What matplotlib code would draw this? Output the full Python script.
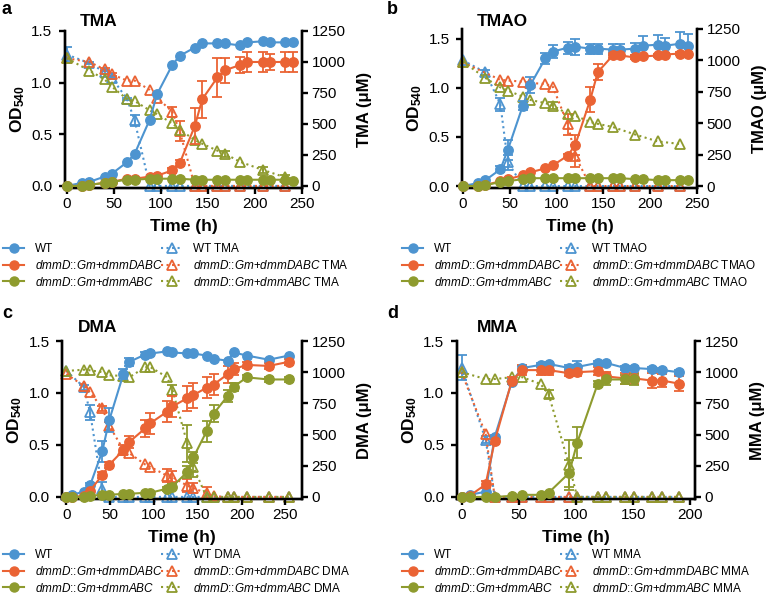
import matplotlib
matplotlib.use("Agg")
import matplotlib.pyplot as plt
from matplotlib.lines import Line2D

plt.rcParams['font.family'] = ['Liberation Sans', 'DejaVu Sans']
plt.rcParams['mathtext.fontset'] = 'custom'
plt.rcParams['mathtext.rm'] = 'Liberation Sans'
plt.rcParams['mathtext.it'] = 'Liberation Sans:italic'
plt.rcParams['mathtext.bf'] = 'Liberation Sans:bold'

BLUE = '#4D94D0'
RED = '#EA6334'
OLIVE = '#8E9B2E'

# ---------------- panel a : TMA ----------------
t_a = [0, 16, 24, 40, 48, 64, 72, 88, 96, 112, 120, 136, 144, 160, 168, 184, 192, 208, 216, 232, 240]
wt_od_a = [0.0, 0.03, 0.04, 0.09, 0.12, 0.23, 0.31, 0.64, 0.89, 1.17, 1.26, 1.34, 1.38, 1.38, 1.38, 1.36, 1.39, 1.40, 1.39, 1.39, 1.39]
wt_od_err_a = [0] * 21
dabc_od_a = [0.0, 0.0, 0.01, 0.03, 0.04, 0.07, 0.07, 0.09, 0.10, 0.15, 0.22, 0.58, 0.84, 1.05, 1.12, 1.17, 1.20, 1.20, 1.20, 1.20, 1.20]
dabc_od_err_a = [0, 0, 0, 0, 0, 0, 0, 0, 0, 0.02, 0.03, 0.17, 0.18, 0.19, 0.12, 0.08, 0.10, 0.10, 0.08, 0.10, 0.10]
abc_od_a = [0.0, 0.0, 0.01, 0.03, 0.04, 0.06, 0.06, 0.07, 0.07, 0.07, 0.07, 0.06, 0.06, 0.06, 0.06, 0.06, 0.06, 0.06, 0.06, 0.06, 0.05]
abc_od_err_a = [0] * 21

tt_a = [0, 24, 40, 48, 64, 72, 88, 96, 112, 120, 136, 144, 160, 168, 184, 192, 208, 216, 232, 240]
wt_sub_a = [1060, 990, 920, 870, 700, 530, 0, 0, 0, 0, 0, 0, 0, 0, 0, None, 0, None, 0, None]
wt_sub_err_a = [60, 10, 15, 10, 10, 45, 0, 0, 0, 0, 0, 0, 0, 0, 0, 0, 0, 0, 0, 0]
dabc_sub_a = [1030, 1000, 940, 900, 850, 850, 775, 710, 600, 440, 0, 0, 0, 0, 0, None, 0, None, 0, None]
dabc_sub_err_a = [0, 0, 10, 10, 0, 0, 0, 0, 40, 80, 0, 0, 0, 0, 0, 0, 0, 0, 0, 0]
abc_sub_a = [1030, 930, 860, 800, 700, 685, 610, 580, 505, 455, 370, 340, 285, 260, 195, None, 130, None, 70, None]
abc_sub_err_a = [0, 0, 0, 0, 0, 0, 0, 0, 0, 0, 0, 0, 0, 25, 0, 0, 25, 0, 20, 0]

# ---------------- panel b : TMAO ----------------
t_b = [0, 16, 24, 40, 48, 64, 72, 88, 96, 112, 120, 136, 144, 160, 168, 184, 192, 208, 216, 232, 240]
wt_od_b = [0.0, 0.03, 0.06, 0.17, 0.37, 0.82, 1.03, 1.30, 1.37, 1.41, 1.42, 1.40, 1.40, 1.39, 1.39, 1.40, 1.43, 1.44, 1.43, 1.45, 1.43]
wt_od_err_b = [0, 0, 0, 0.03, 0.10, 0.05, 0.08, 0.06, 0.07, 0.06, 0.08, 0.05, 0.05, 0.06, 0.06, 0.06, 0.10, 0.10, 0.08, 0.12, 0.12]
dabc_od_b = [0.0, 0.0, 0.01, 0.05, 0.07, 0.11, 0.14, 0.18, 0.21, 0.31, 0.42, 0.88, 1.16, 1.33, 1.33, 1.31, 1.32, 1.33, 1.34, 1.35, 1.35]
dabc_od_err_b = [0, 0, 0, 0, 0, 0, 0, 0, 0, 0.02, 0.10, 0.13, 0.08, 0.03, 0.02, 0.02, 0.02, 0.02, 0.02, 0.02, 0.02]
abc_od_b = [0.0, 0.0, 0.01, 0.04, 0.05, 0.07, 0.08, 0.08, 0.08, 0.08, 0.08, 0.08, 0.08, 0.08, 0.08, 0.07, 0.07, 0.06, 0.06, 0.06, 0.06]
abc_od_err_b = [0] * 21

tt_b = [0, 24, 40, 48, 64, 72, 88, 96, 112, 120, 136, 144, 160, 168, 184, 192, 208, 216, 232, 240]
wt_sub_b = [1000, 905, 650, 190, 0, 0, 0, 0, 0, 0, 0, 0, 0, 0, 0, None, 0, None, 0, None]
wt_sub_err_b = [0, 20, 50, 60, 0, 0, 0, 0, 0, 0, 0, 0, 0, 0, 0, 0, 0, 0, 0, 0]
dabc_sub_b = [985, None, 845, 840, 831, 820, 813, 791, 490, 240, 0, 0, 0, 0, 0, None, 0, None, 0, None]
dabc_sub_err_b = [0, 0, 0, 0, 0, 0, 0, 0, 80, 90, 0, 0, 0, 0, 0, 0, 0, 0, 0, 0]
abc_sub_b = [990, 860, 785, 760, 711, 685, 660, 640, 575, 560, 510, 495, 470, None, 410, None, 355, None, 335, None]
abc_sub_err_b = [0, 0, 0, 0, 0, 0, 0, 25, 0, 0, 0, 0, 0, 0, 0, 0, 0, 0, 0, 0]

# ---------------- panel c : DMA ----------------
t_c = [0, 6, 20, 27, 41, 49, 65, 72, 90, 96, 115, 121, 138, 145, 160, 168, 184, 191, 206, 231, 254]
wt_od_c = [0.0, 0.02, 0.05, 0.11, 0.44, 0.74, 1.18, 1.30, 1.37, 1.38, 1.40, 1.39, 1.38, 1.38, 1.36, 1.33, 1.31, 1.39, 1.36, 1.32, 1.36]
wt_od_err_c = [0, 0, 0, 0.02, 0.10, 0.12, 0.05, 0.04, 0.02, 0.02, 0, 0, 0, 0, 0, 0, 0, 0, 0, 0, 0]
dabc_od_c = [0.0, 0.0, 0.01, 0.06, 0.21, 0.31, 0.45, 0.53, 0.66, 0.71, 0.82, 0.87, 0.95, 0.98, 1.05, 1.08, 1.18, 1.23, 1.27, 1.26, 1.30]
dabc_od_err_c = [0, 0, 0, 0.01, 0.03, 0.03, 0.05, 0.06, 0.08, 0.10, 0.10, 0.10, 0.12, 0.12, 0.10, 0.10, 0.08, 0.06, 0.03, 0.03, 0.03]
abc_od_c = [0.0, 0.0, 0.0, 0.01, 0.02, 0.02, 0.03, 0.03, 0.04, 0.04, 0.08, 0.10, 0.24, 0.38, 0.63, 0.80, 0.97, 1.06, 1.15, 1.13, 1.13]
abc_od_err_c = [0, 0, 0, 0, 0, 0, 0, 0, 0, 0, 0.02, 0.02, 0.06, 0.05, 0.10, 0.08, 0.06, 0.04, 0.02, 0.02, 0.02]

tt_c = [0, 6, 20, 27, 41, 49, 65, 72, 90, 96, 115, 121, 138, 145, 160, 168, 184, 191, 206, 231, 254]
wt_sub_c = [1010, None, 880, 680, 60, 0, 0, 0, 0, 0, 0, 0, 0, 0, 0, 0, 0, 0, 0, 0, 0]
wt_sub_err_c = [0, 0, 20, 60, 60, 0, 0, 0, 0, 0, 0, 0, 0, 0, 0, 0, 0, 0, 0, 0, 0]
dabc_sub_c = [985, None, 890, 840, 710, 570, 380, 350, 260, 240, 170, 160, 90, 70, 30, 5, 0, 0, 0, 0, 0]
dabc_sub_err_c = [0, 0, 0, 0, 20, 30, 0, 0, 0, 0, 50, 50, 50, 40, 50, 0, 0, 0, 0, 0, 0]
abc_sub_c = [1010, None, 1020, 1015, 1000, 975, 970, 960, 1040, 1040, 960, 860, 430, 240, 0, 0, 0, 0, 0, 0, 0]
abc_sub_err_c = [0, 0, 0, 0, 0, 0, 0, 0, 0, 0, 0, 40, 150, 80, 0, 0, 0, 0, 0, 0, 0]

# ---------------- panel d : MMA ----------------
t_d = [0, 7, 21, 29, 44, 53, 69, 76, 94, 101, 119, 126, 143, 151, 166, 175, 190]
wt_od_d = [0.0, 0.02, 0.05, 0.58, 1.11, 1.24, 1.27, 1.28, 1.24, 1.25, 1.29, 1.29, 1.24, 1.24, 1.23, 1.22, 1.20]
wt_od_err_d = [0, 0, 0, 0.02, 0.02, 0.02, 0.02, 0.02, 0.03, 0.06, 0.02, 0.02, 0.02, 0.02, 0.02, 0.02, 0.02]
dabc_od_d = [0.0, 0.01, 0.12, 0.54, 1.12, 1.22, 1.22, 1.22, 1.19, 1.20, 1.21, 1.16, 1.14, 1.14, 1.12, 1.12, 1.09]
dabc_od_err_d = [0, 0, 0.03, 0.03, 0.03, 0.05, 0.05, 0.05, 0.03, 0.04, 0.04, 0.04, 0.05, 0.05, 0.07, 0.06, 0.07]
abc_od_d = [0.0, 0.0, 0.0, 0.0, 0.01, 0.02, 0.02, 0.04, 0.23, 0.52, 1.09, 1.13, 1.13, 1.13, None, None, None]
abc_od_err_d = [0, 0, 0, 0, 0, 0, 0, 0, 0.13, 0.15, 0.03, 0.05, 0.04, 0.05, 0, 0, 0]

tt_d = [0, 7, 21, 29, 44, 53, 69, 76, 94, 101, 119, 126, 143, 151, 166, 175, 190]
wt_sub_d = [1035, None, 460, 0, 0, 0, 0, 0, 0, 0, 0, 0, 0, 0, 0, 0, 0]
wt_sub_err_d = [100, 0, 30, 0, 0, 0, 0, 0, 0, 0, 0, 0, 0, 0, 0, 0, 0]
dabc_sub_d = [1000, None, 505, 0, 0, 0, 0, 0, 0, 0, 0, 0, 0, 0, 0, 0, 0]
dabc_sub_err_d = [0] * 17
abc_sub_d = [1000, None, 945, 945, 960, 960, 905, 825, 255, 0, 0, 0, 0, 0, 0, 0, 0]
abc_sub_err_d = [0, 0, 0, 0, 0, 0, 0, 30, 200, 0, 0, 0, 0, 0, 0, 0, 0]

W, H = 771, 601


def draw(ax, t, y, err, color, marker, ls):
    x = [a for a, b in zip(t, y) if b is not None]
    v = [b for b in y if b is not None]
    e = [c for b, c in zip(y, err) if b is not None]
    xe = [a for a, c in zip(x, e) if c > 0]
    ve = [b for b, c in zip(v, e) if c > 0]
    ee = [c for c in e if c > 0]
    if xe:
        ax.errorbar(xe, ve, yerr=ee, fmt='none', ecolor=color, elinewidth=1.3,
                    capsize=3.5, capthick=1.3, zorder=2)
    if marker == 'o':
        ax.plot(x, v, color=color, ls=ls, lw=1.5, marker='o', ms=6.8,
                mec=color, mfc=color, clip_on=False, zorder=3)
    else:
        ax.plot(x, v, color=color, ls=ls, lw=1.5, marker='^', ms=7.5,
                mec=color, mfc='none', mew=1.3, clip_on=False, zorder=3)


def panel(rect, letter, sub, t, od, tt, subs, xlim, xticks, ytop, letter_xy, title_xy,
          leg_x, leg_y):
    l, r, top, bot = rect
    ax = fig.add_axes([l / W, 1 - bot / H, (r - l) / W, (bot - top) / H])
    axr = ax.twinx()
    ax.set_zorder(axr.get_zorder() + 1)
    ax.patch.set_visible(False)

    cols = [BLUE, RED, OLIVE]
    for (vals, errs), c in zip(subs, cols):
        draw(axr, tt, vals, errs, c, '^', ':')
    for (vals, errs), c in zip(od, cols):
        draw(ax, t, vals, errs, c, 'o', '-')

    ax.set_xlim(*xlim)
    ax.set_ylim(-0.02, ytop)
    axr.set_ylim(-0.02 / 1.5 * 1250 * (1.5 / ytop) if ytop != 1.5 else -16.7, 1250)
    ax.set_xticks(xticks)
    ax.set_yticks([0, 0.5, 1.0, 1.5])
    ax.set_yticklabels(['0.0', '0.5', '1.0', '1.5'])
    axr.set_yticks([0, 250, 500, 750, 1000, 1250])
    for a in (ax, axr):
        a.spines['top'].set_visible(False)
        for s in a.spines.values():
            s.set_linewidth(1.7)
        a.tick_params(width=1.7, length=4, labelsize=11)
    ax.tick_params(axis='y', pad=5)
    ax.tick_params(axis='x', pad=2.5)
    axr.tick_params(axis='y', pad=3)
    ax.set_xlabel('Time (h)', fontsize=12.5, fontweight='bold', labelpad=6)
    ax.set_ylabel(r'OD$_{\mathbf{540}}$', fontsize=12.5, fontweight='bold', labelpad=3)
    axr.set_ylabel(sub + ' (μM)', fontsize=12, fontweight='bold', labelpad=8)

    fig.text(letter_xy[0] / W, 1 - letter_xy[1] / H, letter, fontsize=13,
             fontweight='bold', va='center', ha='left')
    fig.text(title_xy[0] / W, 1 - title_xy[1] / H, sub, fontsize=12.5,
             fontweight='bold', va='center', ha='left')

    gene1 = r'$\mathit{dmmD}$::$\mathit{Gm}$+$\mathit{dmmDABC}$'
    gene2 = r'$\mathit{dmmD}$::$\mathit{Gm}$+$\mathit{dmmABC}$'
    h1 = [Line2D([], [], color=c, lw=1.5, marker='o', ms=6.5) for c in cols]
    h2 = [Line2D([], [], color=c, lw=1.5, ls=':', marker='^', ms=7.5, mfc='none', mew=1.3)
          for c in cols]
    kw = dict(loc='upper left', frameon=False, borderpad=0, borderaxespad=0,
              handlelength=1.8, handletextpad=0.9, labelspacing=0.32, fontsize=8.5,
              numpoints=1)
    fig.legend(h1, ['WT', gene1, gene2],
               bbox_to_anchor=(leg_x[0] / W, 1 - leg_y / H), **kw)
    fig.legend(h2, ['WT ' + sub, gene1 + ' ' + sub, gene2 + ' ' + sub],
               bbox_to_anchor=(leg_x[1] / W, 1 - leg_y / H), **kw)
    return ax


fig = plt.figure(figsize=(W / 100, H / 100), dpi=100)

panel((65, 302, 31, 188), 'a', 'TMA', t_a,
      [(wt_od_a, wt_od_err_a), (dabc_od_a, dabc_od_err_a), (abc_od_a, abc_od_err_a)],
      tt_a,
      [(wt_sub_a, wt_sub_err_a), (dabc_sub_a, dabc_sub_err_a), (abc_sub_a, abc_sub_err_a)],
      (-2, 250), [0, 50, 100, 150, 200, 250], 1.5, (2, 10), (80, 22), (3, 161), 243)

panel((462, 697, 29, 188), 'b', 'TMAO', t_b,
      [(wt_od_b, wt_od_err_b), (dabc_od_b, dabc_od_err_b), (abc_od_b, abc_od_err_b)],
      tt_b,
      [(wt_sub_b, wt_sub_err_b), (dabc_sub_b, dabc_sub_err_b), (abc_sub_b, abc_sub_err_b)],
      (-1, 250), [0, 50, 100, 150, 200, 250], 1.6, (387, 10), (477, 22), (402, 560), 243)

panel((62, 302, 341, 499), 'c', 'DMA', t_c,
      [(wt_od_c, wt_od_err_c), (dabc_od_c, dabc_od_err_c), (abc_od_c, abc_od_err_c)],
      tt_c,
      [(wt_sub_c, wt_sub_err_c), (dabc_sub_c, dabc_sub_err_c), (abc_sub_c, abc_sub_err_c)],
      (-5, 269), [0, 50, 100, 150, 200, 250], 1.5, (2, 313), (78, 327), (3, 161), 549)

panel((457, 695, 341, 499), 'd', 'MMA', t_d,
      [(wt_od_d, wt_od_err_d), (dabc_od_d, dabc_od_err_d), (abc_od_d, abc_od_err_d)],
      tt_d,
      [(wt_sub_d, wt_sub_err_d), (dabc_sub_d, dabc_sub_err_d), (abc_sub_d, abc_sub_err_d)],
      (-4, 204), [0, 50, 100, 150, 200], 1.5, (387, 313), (477, 327), (402, 560), 549)

fig.savefig('out.png', dpi=100)
